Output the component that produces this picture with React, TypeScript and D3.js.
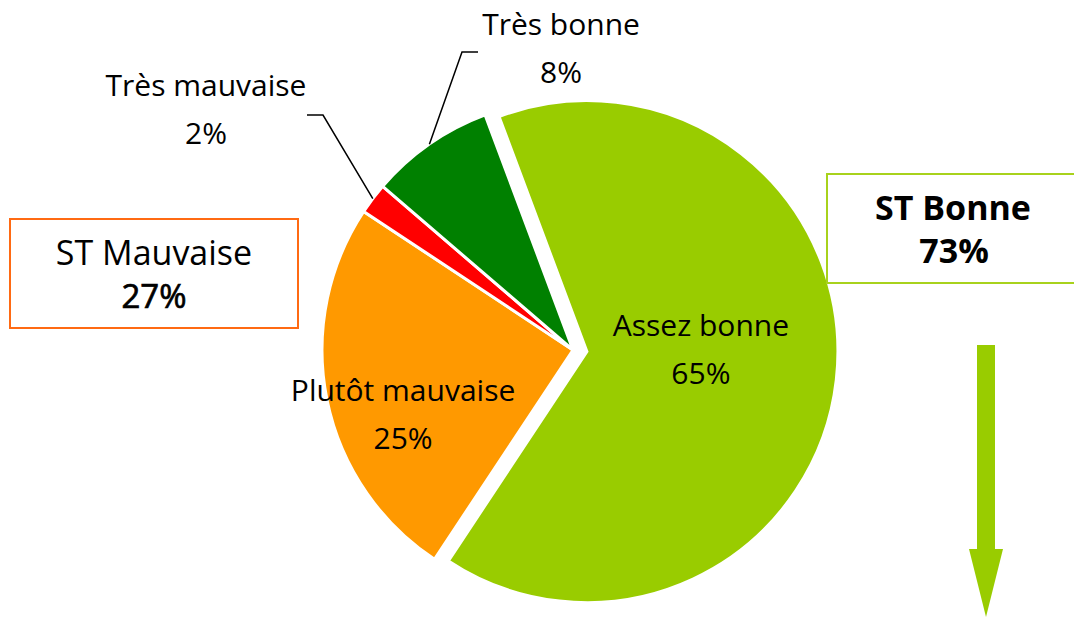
import * as d3 from 'd3';

const categories = ['Assez bonne', 'Plutôt mauvaise', 'Très mauvaise', 'Très bonne'];
const values = [65, 25, 2, 8];
const colors = ['#99CC00', '#FF9900', '#FF0000', '#008000'];

const subtotalLabels = ['ST Mauvaise', 'ST Bonne'];
const subtotalValues = [27, 73];

const width = 1074;
const height = 617;
const cx = 573;
const cy = 350;
const radius = 251;
const explode = 14;
const startDeg = -20.5;
const font = "'Open Sans', 'DejaVu Sans', sans-serif";

// label placement: inside labels use polar offsets, outside ones get a leader line
const labelLayout = [
  { type: 'inside', r: 114, deg: 89 },
  { type: 'inside', r: 182, deg: 249 },
  { type: 'outside', elbow: [-250, -235], end: [-266, -235], text: [-367, -254] },
  { type: 'outside', elbow: [-111, -298], end: [-95, -298], text: [-12, -315] },
];

const App = () => {
  const start = (startDeg * Math.PI) / 180;
  const pie = d3
    .pie<number>()
    .sort(null)
    .value((d) => d)
    .startAngle(start)
    .endAngle(start + 2 * Math.PI);
  const arcs = pie(values);
  const arc = d3.arc<d3.PieArcDatum<number>>().innerRadius(0).outerRadius(radius);
  const total = d3.sum(values);
  const fmt = (v: number) => `${Math.round((v / total) * 100)}%`;

  const polar = (r: number, a: number) => [r * Math.sin(a), -r * Math.cos(a)];

  return (
    <svg width={width} height={height} style={{ position: 'absolute', left: 0, top: 0 }} fontFamily={font}>
      <g transform={`translate(${cx},${cy})`}>
        {arcs.map((d, i) => {
          const mid = (d.startAngle + d.endAngle) / 2;
          const [ox, oy] = i === 0 ? polar(explode, mid) : [0, 0];
          return (
            <path
              key={categories[i]}
              d={arc(d) || ''}
              transform={`translate(${ox},${oy})`}
              fill={colors[i]}
              stroke="#fff"
              strokeWidth={3}
            />
          );
        })}
        {arcs.map((d, i) => {
          const lay = labelLayout[i];
          const mid = (d.startAngle + d.endAngle) / 2;
          if (lay.type === 'inside') {
            const [ox, oy] = i === 0 ? polar(explode, mid) : [0, 0];
            const [lx, ly] = polar(lay.r!, (lay.deg! * Math.PI) / 180);
            return (
              <g key={categories[i]} transform={`translate(${lx + ox},${ly + oy})`} fontSize={30} textAnchor="middle">
                <text y={-14}>{categories[i]}</text>
                <text y={34}>{fmt(d.value)}</text>
              </g>
            );
          }
          const [px, py] = polar(radius, mid);
          const [ex, ey] = lay.elbow!;
          const [tx, ty] = lay.end!;
          const [lx, ly] = lay.text!;
          return (
            <g key={categories[i]}>
              <polyline
                points={`${px},${py} ${ex},${ey} ${tx},${ty}`}
                fill="none"
                stroke="#000"
                strokeWidth={1.5}
              />
              <text x={lx} y={ly} fontSize={30} textAnchor="middle">
                {categories[i]}
              </text>
              <text x={lx} y={ly + 48} fontSize={30} textAnchor="middle">
                {fmt(d.value)}
              </text>
            </g>
          );
        })}
      </g>

      {/* subtotal boxes */}
      <rect x={10} y={219} width={288} height={109} fill="#fff" stroke="#FF6A13" strokeWidth={2} />
      <text x={154} y={265} fontSize={34} textAnchor="middle">
        {subtotalLabels[0]}
      </text>
      <text x={154} y={308} fontSize={33} textAnchor="middle" stroke="#000" strokeWidth={0.7}>
        {subtotalValues[0]}%
      </text>

      <rect x={827} y={174} width={260} height={109} fill="#fff" stroke="#A8D21C" strokeWidth={2} />
      <text x={953} y={220} fontSize={34} textAnchor="middle" fontWeight="bold">
        {subtotalLabels[1]}
      </text>
      <text x={954} y={263} fontSize={34} textAnchor="middle" fontWeight="bold">
        {subtotalValues[1]}%
      </text>

      {/* arrow */}
      <path d="M977,345 L995,345 L995,549 L1003,549 L986,617 L969,549 L977,549 Z" fill="#99CC00" />
    </svg>
  );
};

export default App;
